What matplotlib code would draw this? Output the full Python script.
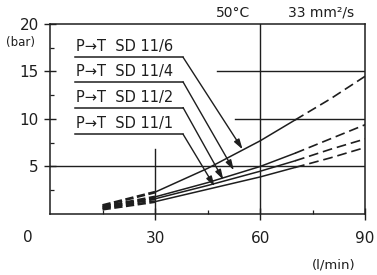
import numpy as np
import matplotlib
matplotlib.use("Agg")
import matplotlib.pyplot as plt

# flow (l/min) and pressure drop (bar)
flow = [15, 30, 45, 60, 70, 80, 90]
sd116 = [0.9, 2.3, 4.8, 7.7, 9.9, 12.1, 14.5]
sd114 = [0.75, 1.8, 3.3, 5.0, 6.4, 7.9, 9.4]
sd112 = [0.65, 1.6, 3.0, 4.5, 5.6, 6.8, 7.9]
sd111 = [0.5, 1.3, 2.6, 3.9, 4.9, 5.9, 7.0]

labels = ["P\u2192T  SD 11/6", "P\u2192T  SD 11/4", "P\u2192T  SD 11/2", "P\u2192T  SD 11/1"]
label_y = [16.5, 13.9, 11.2, 8.4]
tip_x = [55, 52.5, 49.5, 47]
tip_y = [6.8, 4.6, 3.6, 2.9]

col = "#1e1e1e"
plt.rcParams["lines.scale_dashes"] = False

fig = plt.figure(figsize=(3.77, 2.75), dpi=100)
ax = fig.add_axes([0.1326, 0.2218, 0.836, 0.691])

x = np.array(flow)
for y in [sd116, sd114, sd112, sd111]:
    y = np.array(y)
    ax.plot(x[:2], y[:2], color=col, lw=2.0, dashes=(6, 2.5))
    ax.plot(x[1:5], y[1:5], color=col, lw=1.1)
    ax.plot(x[4:], y[4:], color=col, lw=1.2, dashes=(7, 3.5))

# grid pieces
ax.plot([0, 90], [5, 5], color=col, lw=1.0)
ax.plot([52.9, 90], [10, 10], color=col, lw=1.0)
ax.plot([47.7, 90], [15, 15], color=col, lw=1.0)
ax.plot([30, 30], [0, 6.8], color=col, lw=1.0)
ax.plot([60, 60], [0, 20], color=col, lw=1.0)

# labels with leaders
for lab, ly, tx, ty in zip(labels, label_y, tip_x, tip_y):
    ax.text(7.3, ly + 0.3, lab, fontsize=10.5, color=col, va="bottom", ha="left")
    ax.plot([7.1, 38], [ly, ly], color=col, lw=1.1)
    ax.annotate("", xy=(tx, ty), xytext=(38, ly),
                arrowprops=dict(arrowstyle="-|>,head_length=0.6,head_width=0.18",
                                color=col, lw=1.0, shrinkA=0, shrinkB=0))

ax.set_xlim(0, 90)
ax.set_ylim(0, 20)
ax.set_xticks([30, 60, 90])
ax.set_yticks([5, 10, 15, 20])
ax.set_xticks([15, 45, 75], minor=True)
ax.set_yticks([2.5, 7.5, 12.5, 17.5], minor=True)
ax.tick_params(which="major", direction="inout", length=8, width=1.0, color=col,
               labelsize=11, labelcolor=col)
ax.tick_params(axis="x", which="major", pad=8)
ax.tick_params(axis="y", which="major", pad=4)
ax.tick_params(which="minor", direction="in", length=3, width=0.9, color=col)
for s in ax.spines.values():
    s.set_linewidth(1.1)
    s.set_color(col)

ax.text(-0.07, -0.126, "0", transform=ax.transAxes, fontsize=11, color=col,
        ha="center", va="center")
ax.text(-0.092, 0.9, "(bar)", transform=ax.transAxes, fontsize=8.5, color=col,
        ha="center", va="center")
ax.text(0.9, -0.27, "(l/min)", transform=ax.transAxes, fontsize=9.5, color=col,
        ha="center", va="center")
ax.text(0.58, 1.06, "50\u00b0C", transform=ax.transAxes, fontsize=10, color=col,
        ha="center", va="center")
ax.text(0.86, 1.06, "33 mm\u00b2/s", transform=ax.transAxes, fontsize=10, color=col,
        ha="center", va="center")

fig.savefig("out.png", dpi=100)
